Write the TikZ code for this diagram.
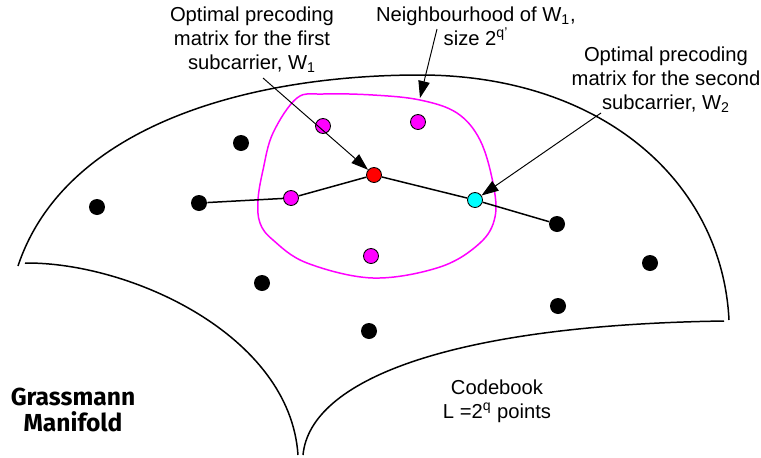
\documentclass[tikz,border=0pt]{standalone}
\usepackage{fontspec}
\setmainfont{Liberation Sans}
\newfontfamily\manifoldfont{Fira Sans}
\usepackage{xcolor}
\definecolor{nbhdmagenta}{HTML}{FF00FF}
\definecolor{pointred}{HTML}{FF0000}
\definecolor{pointcyan}{HTML}{00FFFF}
\usetikzlibrary{arrows.meta}
\tikzset{
  >={Triangle[length=3.4mm, width=2.3mm]},
  every node/.style={font=\fontsize{11.5}{13.7}\selectfont},
  codeword/.style={
    circle, fill=black, inner sep=0pt, minimum size=0.32cm
  },
  nbhdpoint/.style={
    circle, draw=black, line width=0.5pt, fill=nbhdmagenta,
    inner sep=0pt, minimum size=0.3cm
  },
  optpoint/.style={nbhdpoint, fill=#1},
  manifoldline/.style={line width=0.85pt, black},
  nbhdline/.style={line width=0.85pt, nbhdmagenta},
  pathline/.style={line width=0.85pt, black},
  pointer/.style={->, line width=0.55pt, black},
  callout/.style={align=center, inner sep=0pt},
  manifoldlabel/.style={
    align=center, inner sep=0pt,
    font=\manifoldfont\bfseries\fontsize{14}{14.8}\selectfont
  }
}

\begin{document}
\begin{tikzpicture}[x=0.02cm, y=-0.02cm]
\useasboundingbox (0,0) rectangle (761,457);

% ── Manifold outline (three curved edges) ───────────────────────────────────
\draw[manifoldline] (18,266) .. controls (65,125) and (250,75) .. (420,75)
                             .. controls (600,75) and (722,180) .. (729,320);
\draw[manifoldline] (25,263) .. controls (130,262) and (290,335) .. (298,455);
\draw[manifoldline] (303,455) .. controls (310,380) and (450,325) .. (724,321);

% ── Neighbourhood of W1 ─────────────────────────────────────────────────────
\draw[nbhdline] plot[smooth cycle, tension=0.6] coordinates {
  (297,98) (323,94) (373,95) (420,100) (457,113) (480,140) (493,183)
  (495,217) (480,243) (440,267) (373,278) (307,263) (273,240) (260,223)
  (258,200) (263,170) (273,133)};

% ── Codebook points ─────────────────────────────────────────────────────────
\node[codeword] (c1) at ( 97,207) {};
\node[codeword] (c2) at (199,203) {};
\node[codeword] (c3) at (241,143) {};
\node[codeword] (c4) at (262,283) {};
\node[codeword] (c5) at (369,331) {};
\node[codeword] (c6) at (558,306) {};
\node[codeword] (c7) at (650,263) {};
\node[codeword] (c8) at (557,224) {};

% ── Points inside the neighbourhood ─────────────────────────────────────────
\node[nbhdpoint] (n1) at (323,126) {};
\node[nbhdpoint] (n2) at (418,122) {};
\node[nbhdpoint] (n3) at (291,198) {};
\node[nbhdpoint] (n4) at (371,256) {};
\node[optpoint=pointred]  (wone) at (374,175) {};
\node[optpoint=pointcyan] (wtwo) at (475,200) {};

% ── Path across the subcarriers ─────────────────────────────────────────────
\draw[pathline] (c2) -- (n3) -- (wone) -- (wtwo) -- (c8);

% ── Labels ──────────────────────────────────────────────────────────────────
\node[callout] (lab1) at (252,40)
  {Optimal precoding\\matrix for the first\\subcarrier, W\textsubscript{1}};
\node[callout] (labn) at (476,26)
  {Neighbourhood of W\textsubscript{1},\\size 2\textsuperscript{q'}};
\node[callout] (lab2) at (666,80)
  {Optimal precoding\\matrix for the second\\subcarrier, W\textsubscript{2}};
\node[callout] (book) at (497,401)
  {Codebook\\L =2\textsuperscript{q} points};
\node[manifoldlabel] (grass) at (73,410) {Grassmann\\Manifold};

% ── Pointers ────────────────────────────────────────────────────────────────
\coordinate (w1tail) at (263,78);
\coordinate (nbtail) at (437,29);
\coordinate (nbtip)  at (420,98);
\coordinate (w2tail) at (601,113);
\draw[pointer] (w1tail) -- (wone);
\draw[pointer] (nbtail) -- (nbtip);
\draw[pointer] (w2tail) -- (wtwo);

\end{tikzpicture}
\end{document}
